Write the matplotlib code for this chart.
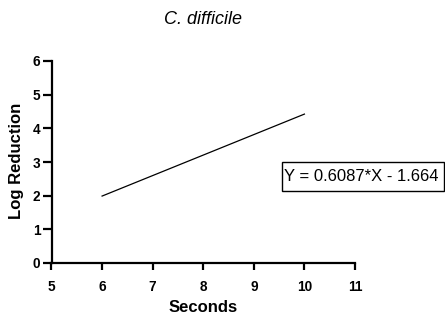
import matplotlib
matplotlib.use("Agg")
import matplotlib.pyplot as plt
from matplotlib.patches import Rectangle
import numpy as np

plt.rcParams['font.family'] = ['Liberation Sans', 'DejaVu Sans']

title = "C. difficile"
x_label = "Seconds"
y_label = "Log Reduction"
slope = 0.6087
intercept = -1.664
line_x = [6, 10]
equation = "Y = 0.6087*X - 1.664"
x_ticks = [5, 6, 7, 8, 9, 10, 11]
y_ticks = [0, 1, 2, 3, 4, 5, 6]

W, H = 445, 316
fig = plt.figure(figsize=(W / 100, H / 100), dpi=100)
ax = fig.add_axes([51.5 / W, 1 - 263 / H, (355 - 51.5) / W, (263 - 61) / H])

lx = np.array(line_x, dtype=float)
ax.plot(lx, slope * lx + intercept, color='black', lw=0.9)

ax.set_xlim(5, 11)
ax.set_ylim(0, 6)
ax.set_xticks(x_ticks)
ax.set_yticks(y_ticks)
for s in ['top', 'right']:
    ax.spines[s].set_visible(False)
for s in ['left', 'bottom']:
    ax.spines[s].set_linewidth(1.6)
ax.tick_params(axis='both', direction='out', width=1.6, labelsize=9.8)
ax.tick_params(axis='x', length=5, pad=7)
ax.tick_params(axis='y', length=6.5, pad=1.5)
for lab in ax.get_xticklabels() + ax.get_yticklabels():
    lab.set_fontweight('bold')

fig.text(17 / W, 1 - 161 / H, y_label, rotation=90, ha='center', va='center',
         fontsize=12, fontweight='bold')
fig.text(203.5 / W, 1 - 308 / H, x_label, ha='center', va='center',
         fontsize=12, fontweight='bold')
fig.text(203.5 / W, 1 - 19 / H, title, ha='center', va='center',
         fontsize=13, style='italic')

# equation box
fig.patches.append(Rectangle((282 / W, 1 - 191 / H), (444 - 282) / W, (191 - 162) / H,
                             transform=fig.transFigure, fill=False, edgecolor='black', lw=1.0))
fig.text(283.5 / W, 1 - 176.5 / H, equation, ha='left', va='center', fontsize=12)

fig.savefig("out.png", dpi=100)
